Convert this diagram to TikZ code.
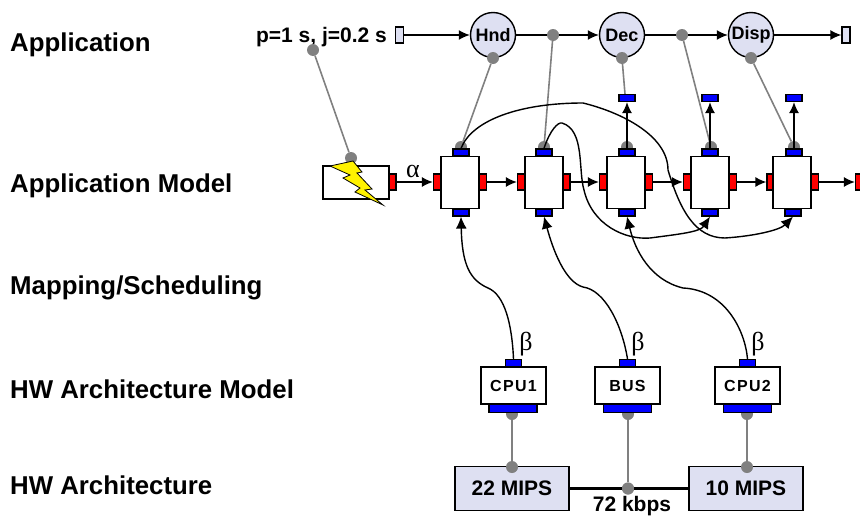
\documentclass[tikz,border=0pt]{standalone}
\usepackage{fontspec}
\setmainfont{Liberation Sans}
\newfontfamily\greekfont{Liberation Serif}
\newfontfamily\widefont[LetterSpace=8]{Liberation Sans}
\definecolor{lav}{HTML}{DEE0F2}
\definecolor{gry}{HTML}{808080}
\usetikzlibrary{arrows.meta}
\tikzset{
	layer/.style={anchor=base west,inner sep=0pt,font=\fontsize{25.8}{30}\bfseries},
	proc/.style={circle,draw,line width=1.4pt,fill=lav,minimum size=45pt,inner sep=0pt,font=\fontsize{18}{20}\bfseries},
	term/.style={draw,line width=1.3pt,fill=lav,minimum width=8pt,minimum height=16pt,inner sep=0pt},
	task/.style={draw,line width=1.3pt,fill=white,minimum width=38pt,minimum height=52pt,inner sep=0pt},
	blue/.style={draw,line width=1.2pt,fill=blue,minimum width=16pt,minimum height=7pt,inner sep=0pt},
	red/.style={draw,line width=1.2pt,fill=red,minimum width=7pt,minimum height=16pt,inner sep=0pt},
	res/.style={draw,line width=1.3pt,fill=white,minimum width=65pt,minimum height=37pt,inner sep=0pt,font=\fontsize{16}{18}\widefont\bfseries},
	widebar/.style={blue,minimum width=48pt,minimum height=8pt},
	hw/.style={draw,line width=1.4pt,fill=lav,minimum width=114pt,minimum height=44pt,inner sep=0pt,font=\fontsize{21}{24}\bfseries},
	dot/.style={circle,fill=gry,minimum size=12pt,inner sep=0pt},
	gline/.style={gry,line width=1.6pt},
	flow/.style={-{Latex[length=11pt,width=10pt]},line width=1.4pt},
	curve/.style={-{Latex[length=12pt,width=11pt]},line width=1.4pt},
	greek/.style={inner sep=0pt,font=\fontsize{26}{28}\greekfont},
}
\begin{document}
\begin{tikzpicture}[x=1pt,y=-1pt]
	\useasboundingbox (0,0) rectangle (860,517);
	% layer names
	\node[layer] at (10,51)(l0){Application};
	\node[layer] at (10,192)(l1){Application Model};
	\node[layer] at (10,294)(l2){Mapping/Scheduling};
	\node[layer] at (10,398)(l3){HW Architecture Model};
	\node[layer] at (10,494)(l4){HW Architecture};
	\node[anchor=base,font=\fontsize{21}{24}\bfseries,inner sep=0pt] at (321.5,42)(period){p=1 s, j=0.2 s};

	% dots under the boxes
	\node[dot] at (461,147)(d1){};
	\node[dot] at (544,147)(d2){};
	\node[dot] at (627,147)(d3){};
	\node[dot] at (711,147)(d4){};
	\node[dot] at (794,147)(d5){};
	\node[dot] at (512,414)(r1){};
	\node[dot] at (628,414)(r2){};
	\node[dot] at (747,414)(r3){};

	% application
	\node[term] at (399.5,35)(src){};
	\node[term] at (846,35)(snk){};
	\node[proc] at (493,35)(hnd){Hnd};
	\node[proc] at (622,35)(dec){Dec};
	\node[proc] at (751,35)(disp){Disp};
	\node[dot] at (553,35)(j1){};
	\node[dot] at (682,35)(j2){};
	\draw[flow] (src) -- (hnd);
	\draw[line width=1.4pt] (hnd) -- (j1);
	\draw[flow] (j1) -- (dec);
	\draw[line width=1.4pt] (dec) -- (j2);
	\draw[flow] (j2) -- (disp);
	\draw[flow] (disp) -- (snk);
	\node[dot] at (493,58)(hd){};
	\node[dot] at (622,58)(dd){};
	\node[dot] at (751,58)(pd){};
	\node[dot] at (313,50)(pj){};
	\node[dot] at (351,158)(ed){};

	% gray mapping lines
	\draw[gline] (pj) -- (ed);
	\draw[gline] (hd) -- (d1);
	\draw[gline] (j1) -- (d2);
	\draw[gline] (dd) -- (625,94);
	\draw[gline] (j2) -- (d4);
	\draw[gline] (pd) -- (d5);

	% application model
	\node[draw,line width=1.3pt,fill=white,minimum width=66pt,minimum height=33pt,inner sep=0pt] at (356,182.5)(ev){};
	\fill[yellow,draw=black,line width=0.8pt]
		(330,166)--
		(353,161)--
		(362,172)--
		(357,173)--
		(372,189)--
		(365,190)--
		(383,205)--
		(355,192)--
		(360,188)--
		(343,178)--
		(350,175)--
		cycle;
	\node[red] at (392.5,182)(ev r){};
	\node[task] at (460,182.5)(t1){};
	\node[task] at (544,182.5)(t2){};
	\node[task] at (626,182.5)(t3){};
	\node[task] at (710,182.5)(t4){};
	\node[task] at (792,182.5)(t5){};
	\node[red] at (437,182)(t1 l){};
	\node[red] at (483,182)(t1 r){};
	\node[red] at (521,182)(t2 l){};
	\node[red] at (566.5,182)(t2 r){};
	\node[red] at (603,182)(t3 l){};
	\node[red] at (649,182)(t3 r){};
	\node[red] at (687,182)(t4 l){};
	\node[red] at (733,182)(t4 r){};
	\node[red,minimum width=6pt] at (770,182)(t5 l){};
	\node[red] at (815,182)(t5 r){};
	\node[red] at (859,182)(out){};
	\node[blue] at (461,152.5)(t1 t){};
	\node[blue] at (544,152.5)(t2 t){};
	\node[blue] at (627,152.5)(t3 t){};
	\node[blue] at (710,152.5)(t4 t){};
	\node[blue] at (794,152.5)(t5 t){};
	\node[blue] at (461,212.5)(t1 b){};
	\node[blue] at (544,212.5)(t2 b){};
	\node[blue] at (627,212.5)(t3 b){};
	\node[blue] at (710,212.5)(t4 b){};
	\node[blue] at (793,212.5)(t5 b){};
	\node[blue] at (627,98)(u3){};
	\node[blue] at (710,98)(u4){};
	\node[blue] at (794,98)(u5){};
	\path[flow] (ev r) edge (t1 l) (t1 r) edge (t2 l) (t2 r) edge (t3 l) (t3 r) edge (t4 l) (t4 r) edge (t5 l) (t5 r) edge (out);
	\path[flow] (t3 t) edge (u3) (t4 t) edge (u4) (t5 t) edge (u5);
	\node[greek] at (413,171)(alpha){α};

	% event curves
	\draw[curve] (t1 t.north) .. controls (472,120) and (520,103) .. (583,103)
		.. controls (620,112) and (668,135) .. (668,170)
		.. controls (680,210) and (695,238) .. (725,238)
		.. controls (755,236) and (780,230) .. (t5 b.south);
	\draw[curve] (t2 t.north) .. controls (550,130) and (558,122) .. (562,123)
		.. controls (585,130) and (578,170) .. (584,190)
		.. controls (592,225) and (625,240) .. (650,238)
		.. controls (680,234) and (700,232) .. (t4 b.south);

	% resources
	\node[res] at (513.5,385.5)(cpu1){CPU1};
	\node[res] at (627.5,385.5)(bus){BUS};
	\node[res] at (747.5,385.5)(cpu2){CPU2};
	\node[blue] at (513.5,363)(c1 t){};
	\node[blue] at (627.5,363)(c2 t){};
	\node[blue] at (747.5,363)(c3 t){};
	\node[widebar] at (513,408.5)(c1 b){};
	\node[widebar] at (627.5,408.5)(c2 b){};
	\node[widebar] at (747.5,408.5)(c3 b){};
	\draw[curve] (c1 t.north) .. controls (512,325) and (505,295) .. (488,288)
		.. controls (470,280) and (462,265) .. (t1 b.south);
	\draw[curve] (c2 t.north) .. controls (622,325) and (605,290) .. (583,287)
		.. controls (565,282) and (553,250) .. (t2 b.south);
	\draw[curve] (c3 t.north) .. controls (745,330) and (725,290) .. (683,288)
		.. controls (650,280) and (635,250) .. (t3 b.south);
	\node[greek] at (526,344)(b1){β};
	\node[greek] at (638,344)(b2){β};
	\node[greek] at (758,344)(b3){β};

	% hardware
	\node[hw] at (512,488.5)(mips1){22 MIPS};
	\node[hw] at (746,488.5)(mips2){10 MIPS};
	\node[dot] at (512,467)(m1){};
	\node[dot] at (747,467)(m2){};
	\node[dot] at (628,488.5)(link){};
	\draw[line width=3.2pt] (mips1) -- (link) -- (mips2);
	\node[dot] at (628,488.5)(link2){};
	\draw[gline] (r1) -- (m1);
	\draw[gline] (r2) -- (link);
	\draw[gline] (r3) -- (m2);
	\node[font=\fontsize{21}{24}\bfseries,inner sep=0pt] at (632,506)(rate){72 kbps};
\end{tikzpicture}
\end{document}
